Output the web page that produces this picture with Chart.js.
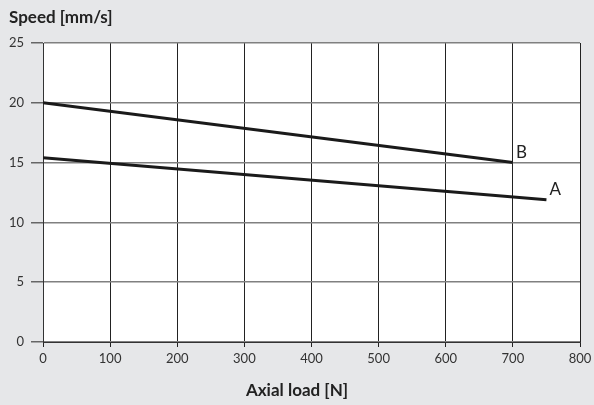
<!DOCTYPE html>
<html>
<head>
<meta charset="utf-8">
<script src="https://cdn.jsdelivr.net/npm/chart.js@4/dist/chart.umd.min.js"></script>
<style>
html,body{margin:0;padding:0;background:#e6e7e9;}
#wrap{width:594px;height:405px;}
</style>
</head>
<body>
<div id="wrap"><canvas id="c" width="594" height="405"></canvas></div>
<script>
const loadA = [0, 750];
const speedA = [15.4, 11.9];
const loadB = [0, 700];
const speedB = [20, 15];
const seriesNames = ['A', 'B'];
const xTicks = [0, 100, 200, 300, 400, 500, 600, 700, 800];
const yTicks = [0, 5, 10, 15, 20, 25];
const yTitle = 'Speed [mm/s]';
const xTitle = 'Axial load [N]';

const FONT = 'Lato, "Open Sans", sans-serif';

const bgPlugin = {
  id: 'bg',
  beforeDraw(chart) {
    const {ctx, chartArea: a} = chart;
    ctx.save();
    ctx.fillStyle = '#e6e7e9';
    ctx.fillRect(0, 0, chart.width, chart.height);
    ctx.fillStyle = '#ffffff';
    ctx.fillRect(a.left, a.top, a.right - a.left, a.bottom - a.top);
    ctx.restore();
  }
};

const textPlugin = {
  id: 'texts',
  afterDraw(chart) {
    const {ctx} = chart;
    ctx.save();
    ctx.fillStyle = '#222';
    ctx.font = 'bold 17px ' + FONT;
    ctx.textAlign = 'left';
    ctx.textBaseline = 'middle';
    ctx.fillText(yTitle, 9, 18);
    ctx.textAlign = 'center';
    ctx.fillText(xTitle, 297, 391);
    ctx.textAlign = 'left';
    const xs = chart.scales.x, ys = chart.scales.y;
    ctx.font = '17px ' + FONT;
    chart.data.datasets.forEach(ds => {
      const last = ds.data[ds.data.length - 1];
      const px = xs.getPixelForValue(last.x);
      const py = ys.getPixelForValue(last.y);
      ctx.fillText(ds.label, px + 3, py - 10);
    });
    ctx.restore();
  }
};

const toPts = (xs, ys) => xs.map((x, i) => ({x, y: ys[i]}));

new Chart(document.getElementById('c'), {
  type: 'scatter',
  data: {
    datasets: [
      {label: seriesNames[0], data: toPts(loadA, speedA), showLine: true, borderColor: '#1a1a1a', borderWidth: 3, pointRadius: 0},
      {label: seriesNames[1], data: toPts(loadB, speedB), showLine: true, borderColor: '#1a1a1a', borderWidth: 3, pointRadius: 0}
    ]
  },
  options: {
    responsive: false,
    animation: false,
    devicePixelRatio: 1,
    layout: {padding: {top: 43, right: 14, left: 0, bottom: 0}},
    plugins: {legend: {display: false}, tooltip: {enabled: false}, title: {display: false}},
    scales: {
      x: {
        type: 'linear', min: 0, max: 800,
        afterFit(s) { s.height = 63; s.paddingLeft = 0; s.paddingRight = 0; },
        afterBuildTicks(s) { s.ticks = xTicks.map(v => ({value: v})); },
        grid: {color: '#222', lineWidth: 1, tickLength: 5, tickColor: '#222'},
        border: {color: '#333', width: 1},
        ticks: {color: '#333', font: {family: FONT, size: 13}, padding: 4, maxRotation: 0}
      },
      y: {
        type: 'linear', min: 0, max: 25,
        afterFit(s) { s.width = 43; s.paddingTop = 0; s.paddingBottom = 0; },
        afterBuildTicks(s) { s.ticks = yTicks.map(v => ({value: v})); },
        grid: {color: '#808080', lineWidth: 1.5, tickLength: 12, tickColor: '#666'},
        border: {color: '#333', width: 1},
        ticks: {color: '#333', font: {family: FONT, size: 13}, padding: 7}
      }
    }
  },
  plugins: [bgPlugin, textPlugin]
});
</script>
</body>
</html>
